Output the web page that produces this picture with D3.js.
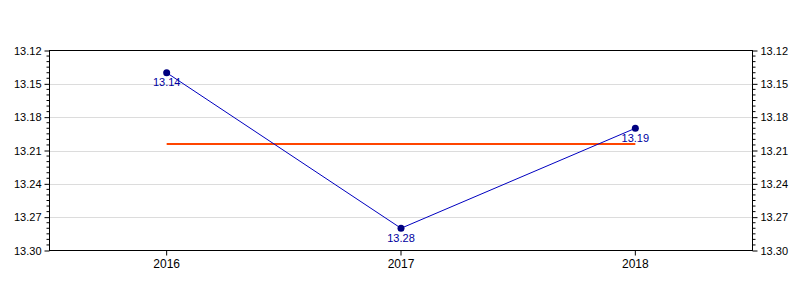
<!DOCTYPE html>
<html><head><meta charset="utf-8">
<script src="https://cdn.jsdelivr.net/npm/d3@7"></script>
<style>body{margin:0;background:#fff}svg{display:block}text{font-family:"Liberation Sans",Arial,sans-serif}</style>
</head><body><svg id="c" width="800" height="300"></svg>
<script>
const years = ["2016", "2017", "2018"];
const values = [13.14, 13.28, 13.19];
const yTicks = [13.12, 13.15, 13.18, 13.21, 13.24, 13.27, 13.30];
const yDomain = [13.12, 13.30];

const svg = d3.select("#c");
const L = 49.5, R = 752.5, T = 50.5, B = 250.5;
const x = d3.scaleBand().domain(years).range([L, R]);
const y = d3.scaleLinear().domain(yDomain).range([T, B]);
const cx = d => x(d) + x.bandwidth() / 2;

// grid
svg.append("g").selectAll("line").data(yTicks.slice(1, -1)).join("line")
  .attr("x1", L).attr("x2", R).attr("y1", d => Math.round(y(d)) + 0.5).attr("y2", d => Math.round(y(d)) + 0.5)
  .attr("stroke", "#dcdcdc").attr("stroke-width", 1);

// minor ticks
const minor = d3.range(0, 37).map(i => 13.12 + i * 0.005).filter((v, i) => i % 6 !== 0);
const fmt = d3.format(".2f");
// left axis
const gl = svg.append("g").attr("transform", `translate(${L},0)`);
gl.call(d3.axisLeft(y).tickValues(yTicks).tickFormat(fmt).tickSize(5).tickPadding(3))
gl.select(".domain").remove();
gl.selectAll("line").attr("stroke", "#000");
gl.selectAll("text").attr("font-size", 11).attr("fill", "#000");
gl.selectAll(".mn").data(minor).join("line").attr("class", "mn")
  .attr("x1", -3).attr("x2", 0).attr("y1", d => y(d)).attr("y2", d => y(d)).attr("stroke", "#000");
// right axis
const gr = svg.append("g").attr("transform", `translate(${R},0)`);
gr.call(d3.axisRight(y).tickValues(yTicks).tickFormat(fmt).tickSize(5).tickPadding(3));
gr.select(".domain").remove();
gr.selectAll("line").attr("stroke", "#000");
gr.selectAll("text").attr("font-size", 11).attr("fill", "#000");
gr.selectAll(".mn").data(minor).join("line").attr("class", "mn")
  .attr("x1", 0).attr("x2", 3).attr("y1", d => y(d)).attr("y2", d => y(d)).attr("stroke", "#000");
// bottom axis
const gb = svg.append("g").attr("transform", `translate(0,${B})`);
gb.call(d3.axisBottom(x).tickSize(5).tickPadding(4));
gb.select(".domain").remove();
gb.selectAll("line").attr("stroke", "#000");
gb.selectAll("text").attr("font-size", 12).attr("fill", "#000");

// frame
svg.append("rect").attr("x", L).attr("y", T).attr("width", R - L).attr("height", B - T)
  .attr("fill", "none").attr("stroke", "#000").attr("stroke-width", 1);

// mean line
const mean = d3.mean(values);
svg.append("line").attr("x1", cx(years[0])).attr("x2", cx(years[years.length - 1]))
  .attr("y1", y(mean) + 1).attr("y2", y(mean) + 1).attr("stroke", "#ff4500").attr("stroke-width", 2);

// series line
const pts = years.map((d, i) => [cx(d), y(values[i])]);
svg.append("path").attr("d", d3.line()(pts)).attr("fill", "none").attr("stroke", "#0000c0").attr("stroke-width", 1);
svg.selectAll(".pt").data(pts).join("circle").attr("class", "pt")
  .attr("cx", d => d[0]).attr("cy", d => d[1]).attr("r", 3.5).attr("fill", "#000080");
svg.selectAll(".lb").data(values).join("text").attr("class", "lb")
  .attr("x", (d, i) => pts[i][0]).attr("y", (d, i) => pts[i][1] + 13.5)
  .attr("text-anchor", "middle").attr("font-size", 11).attr("fill", "#0000a0").text(d => fmt(d));
</script></body></html>
